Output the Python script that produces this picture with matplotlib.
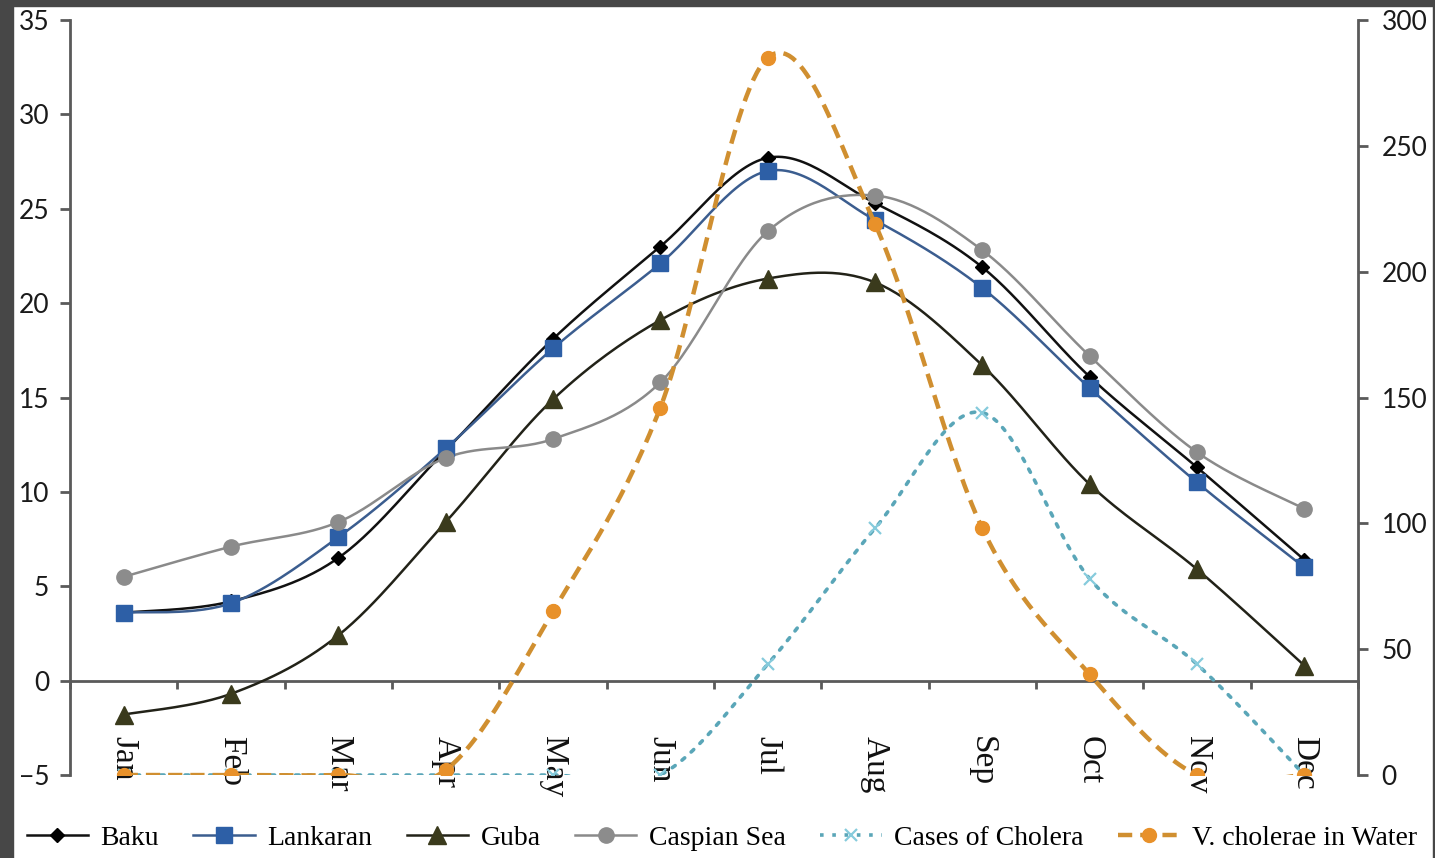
import numpy as np
import matplotlib
matplotlib.use("Agg")
import matplotlib.pyplot as plt
from matplotlib.patches import Rectangle

# Monthly data
months = ["Jan", "Feb", "Mar", "Apr", "May", "Jun",
          "Jul", "Aug", "Sep", "Oct", "Nov", "Dec"]

# Temperatures (left axis)
baku = [3.6, 4.2, 6.5, 12.2, 18.1, 23.0, 27.7, 25.3, 21.9, 16.1, 11.3, 6.4]
lankaran = [3.6, 4.1, 7.6, 12.3, 17.6, 22.1, 27.0, 24.4, 20.8, 15.5, 10.5, 6.0]
guba = [-1.8, -0.7, 2.4, 8.4, 14.9, 19.1, 21.3, 21.1, 16.7, 10.4, 5.9, 0.8]
caspian = [5.5, 7.1, 8.4, 11.8, 12.8, 15.8, 23.8, 25.7, 22.8, 17.2, 12.1, 9.1]

# Counts (right axis)
cholera_cases = [0, 0, 0, 0, 0, 0, 44, 98, 144, 78, 44, 0]
vibrio_water = [0, 0, 0, 2, 65, 146, 285, 219, 98, 40, 0, 0]


def smooth(x, y, n=30):
    """Catmull-Rom smoothed path through the points (spreadsheet-style smoothing)."""
    x = np.asarray(x, float)
    y = np.asarray(y, float)
    px = np.concatenate([[x[0]], x, [x[-1]]])
    py = np.concatenate([[y[0]], y, [y[-1]]])
    xs, ys = [], []
    t = np.linspace(0, 1, n, endpoint=False)
    for i in range(1, len(px) - 2):
        p0, p1, p2, p3 = px[i - 1], px[i], px[i + 1], px[i + 2]
        q0, q1, q2, q3 = py[i - 1], py[i], py[i + 1], py[i + 2]
        m1x, m2x = (p2 - p0) / 2, (p3 - p1) / 2
        m1y, m2y = (q2 - q0) / 2, (q3 - q1) / 2
        h00 = 2 * t**3 - 3 * t**2 + 1
        h10 = t**3 - 2 * t**2 + t
        h01 = -2 * t**3 + 3 * t**2
        h11 = t**3 - t**2
        xs.append(h00 * p1 + h10 * m1x + h01 * p2 + h11 * m2x)
        ys.append(h00 * q1 + h10 * m1y + h01 * q2 + h11 * m2y)
    xs.append([x[-1]])
    ys.append([y[-1]])
    return np.concatenate(xs), np.concatenate(ys)


x = np.arange(1, len(months) + 1)

fig = plt.figure(figsize=(14.35, 8.58), dpi=100, facecolor="white")
ax = fig.add_axes([70 / 1435, 1 - 775 / 858, (1358 - 70) / 1435, (775 - 20) / 858])
ax2 = ax.twinx()

axis_col = "#5a5a5a"
tick_font = {"family": ["Lato", "DejaVu Sans"], "size": 19}
serif = ["Liberation Serif", "DejaVu Serif"]

series_left = [
    (baku, "Baku", dict(color="#111111", lw=1.8), dict(marker="D", ms=7, mfc="#000000", mec="#000000")),
    (lankaran, "Lankaran", dict(color="#3b5d8f", lw=1.8), dict(marker="s", ms=11, mfc="#2d5fa6", mec="#2d5fa6")),
    (guba, "Guba", dict(color="#222218", lw=1.8), dict(marker="^", ms=13, mfc="#3a3a1c", mec="#3a3a1c")),
    (caspian, "Caspian Sea", dict(color="#8a8a8a", lw=1.8), dict(marker="o", ms=11, mfc="#8c8c8c", mec="#8c8c8c")),
]

handles = []
for vals, name, lstyle, mstyle in series_left:
    sx, sy = smooth(x, vals)
    ax.plot(sx, sy, **lstyle, zorder=3)
    ax.plot(x, vals, ls="none", **mstyle, zorder=4)
    handles.append(plt.Line2D([], [], **lstyle, **mstyle, label=name))

# Right-axis series
cx, cy = smooth(x, cholera_cases)
ax2.plot(cx, cy, color="#5aa6b8", lw=2.6, ls=(0, (1, 2.4)), dash_capstyle="round", zorder=3)
ax2.plot(x, cholera_cases, ls="none", marker="x", ms=8, mew=1.6, color="#86cbdc", zorder=4)
handles.append(plt.Line2D([], [], color="#5aa6b8", lw=2.6, ls=(0, (1, 2.4)),
                          marker="x", ms=8, mew=1.6, mec="#86cbdc", label="Cases of Cholera"))

vx, vy = smooth(x, vibrio_water)
ax2.plot(vx, vy, color="#d08f30", lw=3.2, ls=(0, (3.2, 1.8)), zorder=3)
ax2.plot(x, vibrio_water, ls="none", marker="o", ms=10, mfc="#e8912a", mec="#e8912a", zorder=4)
handles.append(plt.Line2D([], [], color="#d08f30", lw=3.2, ls=(0, (3.2, 1.8)),
                          marker="o", ms=10, mfc="#e8912a", mec="#e8912a", label="V. cholerae in Water"))

# Axis limits and ticks
ax.set_xlim(0.5, 12.5)
ax.set_ylim(-5, 35)
ax.set_yticks(np.arange(-5, 36, 5))
ax2.set_ylim(0, 300)
ax2.set_yticks(np.arange(0, 301, 50))

for a in (ax, ax2):
    a.set_facecolor("none")
    a.spines["top"].set_visible(False)

ax.spines["right"].set_visible(False)
ax2.spines["left"].set_visible(False)
ax2.spines["bottom"].set_visible(False)
ax.spines["left"].set_color(axis_col)
ax.spines["left"].set_linewidth(2)
ax2.spines["right"].set_color(axis_col)
ax2.spines["right"].set_linewidth(2)

# Category axis crossing at zero
ax.spines["bottom"].set_position(("data", 0))
ax.spines["bottom"].set_color(axis_col)
ax.spines["bottom"].set_linewidth(2)
ax.set_xticks(x)
ax.set_xticklabels(months, rotation=270, fontfamily=serif, fontsize=24)
ax.set_xticks(np.arange(0.5, 12.6, 1), minor=True)
ax.tick_params(axis="x", which="major", length=0, pad=40, colors="#111111")
ax.tick_params(axis="x", which="minor", direction="out", length=6, width=2, color=axis_col)
for lbl in ax.get_xticklabels():
    lbl.set_va("top")

ax.tick_params(axis="y", direction="out", length=7, width=2, color=axis_col, pad=8,
               labelcolor="#1a1a1a")
ax2.tick_params(axis="y", direction="out", length=7, width=2, color=axis_col, pad=10,
                labelcolor="#1a1a1a")
for lbl in ax.get_yticklabels() + ax2.get_yticklabels():
    lbl.set_fontfamily(tick_font["family"])
    lbl.set_fontsize(tick_font["size"])

ax.set_zorder(2)
ax2.set_zorder(3)

leg = fig.legend(handles=handles, loc="center", bbox_to_anchor=(0.503, 1 - 838 / 858),
                 ncol=6, frameon=False, handlelength=2.2, handletextpad=0.45,
                 columnspacing=1.25, prop={"family": serif, "size": 20})

# Dark frame along the image edges
for (x0, y0, w, h) in [(0, 0, 13 / 1435, 1), (0, 1 - 6 / 858, 1, 6 / 858),
                       (1 - 2 / 1435, 0, 2 / 1435, 1)]:
    fig.patches.append(Rectangle((x0, y0), w, h, transform=fig.transFigure,
                                 color="#474747", zorder=10))

fig.savefig("out.png", dpi=100, facecolor="white")
